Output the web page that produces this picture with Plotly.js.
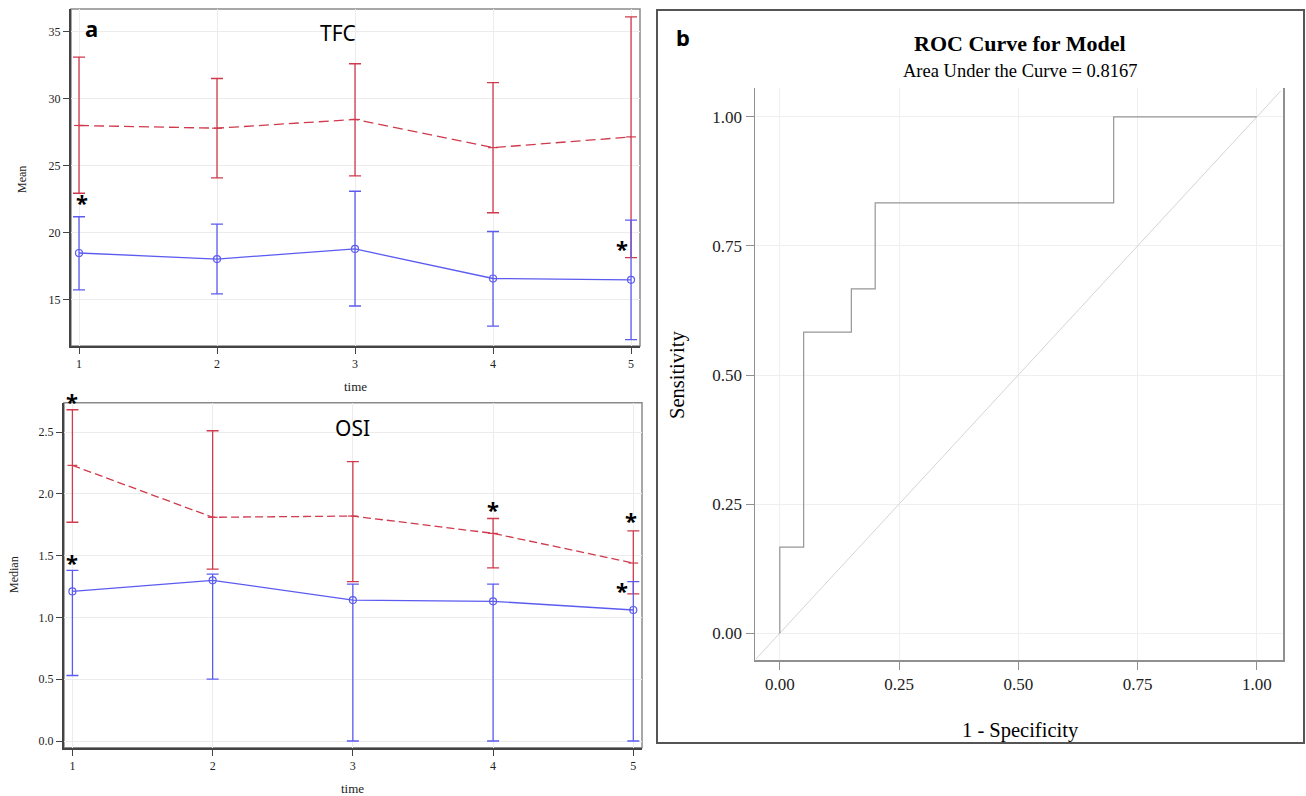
<!DOCTYPE html>
<html>
<head>
<meta charset="utf-8">
<script src="https://cdn.plot.ly/plotly-3.0.1.min.js"></script>
<style>html,body{margin:0;padding:0;background:#fff;}#chart{width:1306px;height:796px;}</style>
</head>
<body>
<div id="chart"></div>
<script>
// ---------- data ----------
const time = [1, 2, 3, 4, 5];
const timeTicks = ['1', '2', '3', '4', '5'];

// TFC (mean with error bars)
const tfcRedMean  = [28.0, 27.8, 28.45, 26.35, 27.15];
const tfcRedUpper = [33.1, 31.5, 32.6, 31.2, 36.1];
const tfcRedLower = [22.95, 24.1, 24.25, 21.5, 18.15];
const tfcBlueMean  = [18.5, 18.05, 18.8, 16.6, 16.5];
const tfcBlueUpper = [21.2, 20.65, 23.1, 20.1, 20.95];
const tfcBlueLower = [15.75, 15.45, 14.55, 13.05, 12.05];
const tfcYTicks = [15, 20, 25, 30, 35];

// OSI (median with error bars)
const osiRedMedian = [2.23, 1.81, 1.82, 1.68, 1.44];
const osiRedUpper  = [2.68, 2.51, 2.26, 1.80, 1.70];
const osiRedLower  = [1.77, 1.39, 1.29, 1.40, 1.19];
const osiBlueMedian = [1.21, 1.30, 1.14, 1.13, 1.06];
const osiBlueUpper  = [1.38, 1.35, 1.27, 1.27, 1.29];
const osiBlueLower  = [0.53, 0.50, 0.0, 0.0, 0.0];
const osiYTicks = [0.0, 0.5, 1.0, 1.5, 2.0, 2.5];
const osiYTickText = ['0.0', '0.5', '1.0', '1.5', '2.0', '2.5'];

// ROC
const rocFpr = [0, 0, 0.05, 0.05, 0.15, 0.15, 0.2, 0.2, 0.7, 0.7, 1.0];
const rocTpr = [0, 0.1667, 0.1667, 0.5833, 0.5833, 0.6667, 0.6667, 0.8333, 0.8333, 1.0, 1.0];
const refLine = [-0.05, 1.05];
const rocTicks = [0, 0.25, 0.5, 0.75, 1.0];
const rocTickText = ['0.00', '0.25', '0.50', '0.75', '1.00'];
const aucText = 'Area Under the Curve = 0.8167';

// ---------- helpers ----------
const W = 1306, H = 796;
const px = v => v / W;
const py = v => 1 - v / H;
const diff = (a, b) => a.map((v, i) => v - b[i]);

const RED = '#cf3a4c';
const BLUE = '#5b5bf0';
const SERIF = 'Liberation Serif, Times New Roman, serif';
const SANS = 'Noto Sans, Open Sans, sans-serif';

function errTrace(x, y, up, lo, xa, ya, color, dash, symbol) {
  return {
    type: 'scatter', mode: 'lines+markers', x: x, y: y, xaxis: xa, yaxis: ya,
    line: {color: color, width: 1.3, dash: dash},
    marker: {symbol: symbol, size: 7, color: color, line: {color: color, width: 1.2}},
    error_y: {type: 'data', symmetric: false, array: diff(up, y), arrayminus: diff(y, lo),
              color: color, thickness: 1.3, width: 6},
    cliponaxis: false, hoverinfo: 'skip'
  };
}

const traces = [
  errTrace(time, tfcRedMean, tfcRedUpper, tfcRedLower, 'x', 'y', RED, '10px,5px', 'line-ew-open'),
  errTrace(time, tfcBlueMean, tfcBlueUpper, tfcBlueLower, 'x', 'y', BLUE, 'solid', 'circle-open'),
  errTrace(time, osiRedMedian, osiRedUpper, osiRedLower, 'x2', 'y2', RED, '8px,4px', 'line-ew-open'),
  errTrace(time, osiBlueMedian, osiBlueUpper, osiBlueLower, 'x2', 'y2', BLUE, 'solid', 'circle-open'),
  {type: 'scatter', mode: 'lines', x: refLine, y: refLine, xaxis: 'x3', yaxis: 'y3',
   line: {color: '#d4d4d4', width: 1}, hoverinfo: 'skip'},
  {type: 'scatter', mode: 'lines', x: rocFpr, y: rocTpr, xaxis: 'x3', yaxis: 'y3',
   line: {color: '#969696', width: 1.2, shape: 'linear'}, hoverinfo: 'skip'}
];

const tickFontA = {family: SERIF, size: 12, color: '#222'};
const axisA = {
  showgrid: true, gridcolor: '#ececec', gridwidth: 1, zeroline: false,
  showline: true, linecolor: '#444', linewidth: 2,
  ticks: 'outside', ticklen: 6, tickcolor: '#444', tickwidth: 1,
  tickfont: tickFontA, fixedrange: true
};

function label(x, y, text, font, extra) {
  return Object.assign({xref: 'paper', yref: 'paper', x: px(x), y: py(y), text: text,
    showarrow: false, xanchor: 'center', yanchor: 'middle', font: font}, extra || {});
}
function star(xa, ya, x, y, shift) {
  return {xref: xa, yref: ya, x: x, y: y, text: '<b>*</b>', showarrow: false,
    xanchor: 'center', yanchor: 'middle', yshift: shift || 0,
    font: {family: SANS, size: 22, color: '#000'}};
}

const rocTickFont = {family: SERIF, size: 17, color: '#222'};

const layout = {
  width: W, height: H, margin: {l: 0, r: 0, t: 0, b: 0},
  paper_bgcolor: '#fff', plot_bgcolor: '#fff', showlegend: false,
  xaxis: Object.assign({}, axisA, {domain: [px(71), px(640)], range: [0.942, 5.065],
          tickvals: time, ticktext: timeTicks, anchor: 'y'}),
  yaxis: Object.assign({}, axisA, {domain: [py(346), py(9)], range: [11.57, 36.68],
          tickvals: tfcYTicks, anchor: 'x'}),
  xaxis2: Object.assign({}, axisA, {domain: [px(64), px(642)], range: [0.94, 5.062],
          tickvals: time, ticktext: timeTicks, anchor: 'y2'}),
  yaxis2: Object.assign({}, axisA, {domain: [py(747.7), py(402.7)], range: [-0.054, 2.737],
          tickvals: osiYTicks, ticktext: osiYTickText, anchor: 'x2'}),
  xaxis3: {domain: [px(755), px(1283)], range: [-0.052, 1.055], anchor: 'y3',
          showgrid: true, gridcolor: '#efefef', zeroline: false,
          showline: true, linecolor: '#909090', linewidth: 1.5,
          ticks: 'outside', ticklen: 8, tickcolor: '#909090',
          tickvals: rocTicks, ticktext: rocTickText,
          tickfont: rocTickFont, fixedrange: true},
  yaxis3: {domain: [py(660), py(88)], range: [-0.052, 1.056], anchor: 'x3',
          showgrid: true, gridcolor: '#efefef', zeroline: false,
          showline: true, mirror: true, linecolor: '#909090', linewidth: 1.5,
          ticks: 'outside', ticklen: 8, tickcolor: '#909090',
          tickvals: rocTicks, ticktext: rocTickText,
          tickfont: rocTickFont, fixedrange: true},
  shapes: [
    {type: 'rect', xref: 'x domain', yref: 'y domain', x0: 0, x1: 1, y0: 0, y1: 1,
     line: {color: '#8a8a8a', width: 1.5}, layer: 'below'},
    {type: 'rect', xref: 'x2 domain', yref: 'y2 domain', x0: 0, x1: 1, y0: 0, y1: 1,
     line: {color: '#8a8a8a', width: 1.5}, layer: 'below'},
    {type: 'rect', xref: 'paper', yref: 'paper', x0: px(657), x1: px(1304), y0: py(743), y1: py(10),
     line: {color: '#555', width: 2}}
  ],
  annotations: [
    // panel labels
    label(91, 28, '<b>a</b>', {family: SANS, size: 22, color: '#000'}),
    label(683, 37, '<b>b</b>', {family: SANS, size: 22, color: '#000'}),
    label(338, 33, 'TFC', {family: SANS, size: 21, color: '#000'}),
    label(352, 428, 'OSI', {family: SANS, size: 21, color: '#000'}),
    // axis titles panel a
    label(22, 180, 'Mean', {family: SERIF, size: 12, color: '#222'}, {textangle: -90}),
    label(14, 575, 'Median', {family: SERIF, size: 12, color: '#222'}, {textangle: -90}),
    label(355, 386, 'time', {family: SERIF, size: 13, color: '#222'}),
    label(352, 788, 'time', {family: SERIF, size: 13, color: '#222'}),
    // ROC titles
    label(1020, 43, '<b>ROC Curve for Model</b>', {family: SERIF, size: 22, color: '#000'}),
    label(1020, 71, aucText, {family: SERIF, size: 18.5, color: '#000'}),
    label(677, 375, 'Sensitivity', {family: SERIF, size: 20.5, color: '#000'}, {textangle: -90}),
    label(1020, 730, '1 - Specificity', {family: SERIF, size: 20.5, color: '#000'}),
    // significance asterisks
    star('x', 'y', 1.02, 22.3, 0),
    star('x', 'y', 4.935, 18.88, 0),
    star('x2', 'y2', 1.0, 2.6, 19),
    star('x2', 'y2', 1.0, 1.448, 0),
    star('x2', 'y2', 4.0, 1.877, 0),
    star('x2', 'y2', 4.98, 1.788, 0),
    star('x2', 'y2', 4.92, 1.222, 0)
  ]
};

Plotly.newPlot('chart', traces, layout, {displayModeBar: false, staticPlot: true});
</script>
</body>
</html>
